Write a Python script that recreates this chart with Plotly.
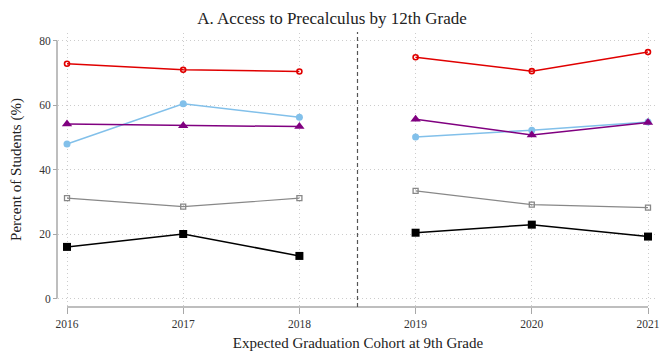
import plotly.graph_objects as go

# Expected graduation cohorts (two separate windows)
years_early = [2016, 2017, 2018]
years_late = [2019, 2020, 2021]

# Percent of students with access to precalculus by 12th grade
red_vals = [72.8, 70.9, 70.4, 74.8, 70.5, 76.4]
blue_vals = [47.9, 60.4, 56.2, 50.1, 52.2, 54.7]
purple_vals = [54.1, 53.6, 53.3, 55.6, 50.7, 54.6]
gray_vals = [31.1, 28.5, 31.1, 33.4, 29.1, 28.2]
black_vals = [16.0, 20.0, 13.2, 20.4, 22.9, 19.2]

y_ticks = [0, 20, 40, 60, 80]
x_ticks = [2016, 2017, 2018, 2019, 2020, 2021]
cutoff = 2018.5

FONT = "'Liberation Serif', 'Times New Roman', 'DejaVu Serif', serif"

styles = [
    (red_vals, dict(color="#e00000", width=1.5),
     dict(symbol="circle-open", size=5, color="#e00000", line=dict(width=1.6, color="#e00000"))),
    (blue_vals, dict(color="#82c0ea", width=1.5),
     dict(symbol="circle", size=7, color="#82c0ea")),
    (purple_vals, dict(color="#800080", width=1.5),
     dict(symbol="triangle-up", size=9, color="#800080")),
    (gray_vals, dict(color="#888888", width=1.2),
     dict(symbol="square-open", size=5, color="#888888", line=dict(width=1.3, color="#888888"))),
    (black_vals, dict(color="#000000", width=1.5),
     dict(symbol="square", size=8, color="#000000")),
]

fig = go.Figure()
for vals, line, marker in styles:
    for xs, ys in ((years_early, vals[:3]), (years_late, vals[3:])):
        fig.add_trace(go.Scatter(x=xs, y=ys, mode="lines+markers",
                                 line=line, marker=marker, showlegend=False,
                                 cliponaxis=False))

W, H = 664, 351
ml, mr, mt, mb = 57, 6, 33, 44
pw, ph = W - ml - mr, H - mt - mb

x_range = [2015.9225, 2021.0861]
y_range = [-2.326, 82.326]
x_dom = [1 / pw, 1]
y_dom = [1 / ph, 1]


def xpaper(v):
    return x_dom[0] + (v - x_range[0]) / (x_range[1] - x_range[0]) * (x_dom[1] - x_dom[0])


def ypaper(v):
    return y_dom[0] + (v - y_range[0]) / (y_range[1] - y_range[0]) * (y_dom[1] - y_dom[0])


axis_col = "#a8a8a8"
grid_col = "#cccccc"
shapes = [
    # y axis line over the tick range
    dict(type="line", xref="paper", yref="paper", x0=0, x1=0,
         y0=ypaper(y_ticks[0]), y1=ypaper(y_ticks[-1]),
         line=dict(color=axis_col, width=1.5)),
    # x axis line over the tick range
    dict(type="line", xref="paper", yref="paper", y0=0, y1=0,
         x0=xpaper(x_ticks[0]), x1=xpaper(x_ticks[-1]),
         line=dict(color=axis_col, width=1.5)),
    # cohort break
    dict(type="line", xref="paper", yref="paper", x0=xpaper(cutoff), x1=xpaper(cutoff),
         y0=0, y1=1.004, line=dict(color="#555555", width=1.2, dash="4px,3px")),
]

fig.update_layout(
    width=W, height=H,
    margin=dict(l=ml, r=mr, t=mt, b=mb, autoexpand=False),
    paper_bgcolor="white", plot_bgcolor="white",
    font=dict(family=FONT, color="#222222"),
    title=dict(text="A. Access to Precalculus by 12th Grade", x=0.5, xanchor="center",
               y=0.95, yanchor="middle", font=dict(size=17, family=FONT, color="#222222")),
    shapes=shapes,
    xaxis=dict(range=x_range, domain=x_dom, anchor="free", position=0, automargin=False,
               tickvals=x_ticks, ticktext=[str(t) for t in x_ticks],
               ticks="outside", ticklen=6, tickwidth=1, tickcolor=axis_col,
               showline=False, zeroline=False,
               showgrid=True, gridcolor=grid_col, griddash="1px,3px", gridwidth=1,
               tickfont=dict(size=11.5, family=FONT, color="#333333"),
               title=dict(text="Expected Graduation Cohort at 9th Grade",
                          font=dict(size=15, family=FONT, color="#222222"), standoff=9)),
    yaxis=dict(range=y_range, domain=y_dom, anchor="free", position=0, automargin=False,
               tickvals=y_ticks, ticktext=[str(t) for t in y_ticks],
               ticks="outside", ticklen=4, tickwidth=1, tickcolor=axis_col,
               showline=False, zeroline=False,
               showgrid=True, gridcolor=grid_col, griddash="1px,3px", gridwidth=1,
               tickfont=dict(size=11.5, family=FONT, color="#333333"),
               title=dict(text="Percent of Students (%)",
                          font=dict(size=15, family=FONT, color="#222222"), standoff=12)),
)

fig.write_html("out.html")
